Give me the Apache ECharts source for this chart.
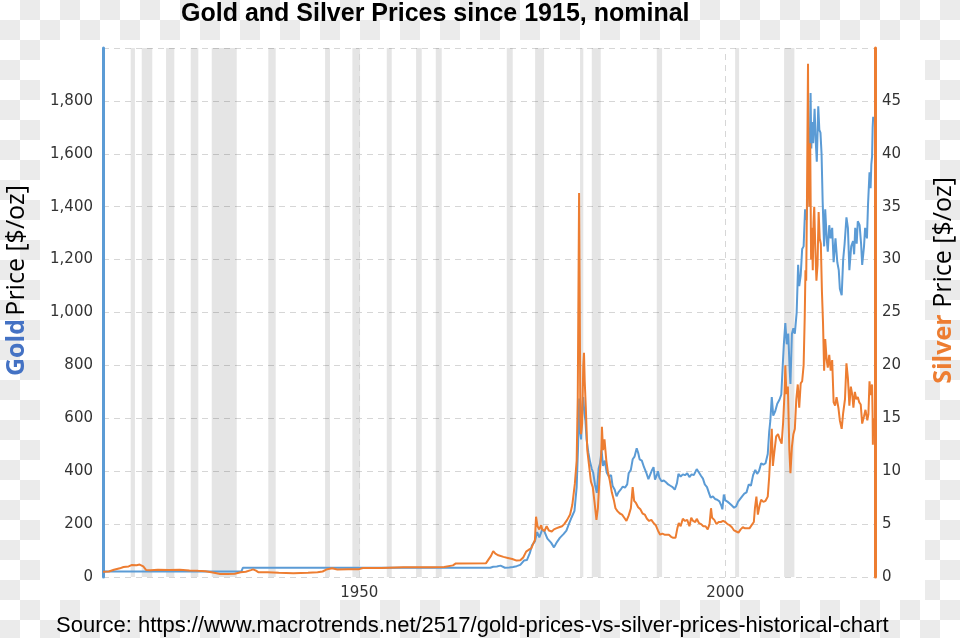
<!DOCTYPE html>
<html><head><meta charset="utf-8">
<script src="https://cdn.jsdelivr.net/npm/echarts@6/dist/echarts.min.js"></script>
<style>
html,body{margin:0;padding:0;}
#wrap{position:relative;width:960px;height:638px;background-color:#fff;background-image:conic-gradient(#ebebeb 0 25%, #fff 0 50%, #ebebeb 0 75%, #fff 0);background-size:40px 40px;}
#panel{position:absolute;left:40px;top:40px;width:885px;height:560px;background:#fff;}
#chart{position:absolute;left:0;top:0;width:960px;height:638px;}
</style></head>
<body><div id="wrap"><div id="panel"></div><div id="chart"></div></div>
<script>
const titleText = 'Gold and Silver Prices since 1915, nominal';
const sourceText = 'Source: https://www.macrotrends.net/2517/gold-prices-vs-silver-prices-historical-chart';

const goldYears = [1915.0,1933.9,1934.1,1967.9,1968.3,1968.8,1969.3,1969.9,1970.5,1971.0,1971.5,1972.0,1972.5,1972.9,1973.3,1973.6,1974.0,1974.3,1974.6,1975.0,1975.3,1975.7,1976.2,1976.6,1977.0,1977.4,1977.9,1978.3,1978.7,1979.0,1979.4,1979.7,1979.9,1980.05,1980.15,1980.3,1980.45,1980.6,1980.75,1980.9,1981.05,1981.3,1981.5,1981.75,1981.95,1982.2,1982.45,1982.7,1982.9,1983.1,1983.3,1983.55,1983.8,1984.1,1984.4,1984.6,1984.9,1985.15,1985.4,1985.7,1986.0,1986.3,1986.6,1986.8,1987.1,1987.35,1987.6,1987.9,1988.1,1988.3,1988.6,1988.9,1989.2,1989.5,1989.75,1990.0,1990.2,1990.4,1990.65,1990.8,1991.0,1991.3,1991.6,1991.9,1992.2,1992.5,1992.8,1993.1,1993.4,1993.6,1993.9,1994.2,1994.5,1994.8,1995.1,1995.4,1995.7,1996.1,1996.4,1996.7,1996.95,1997.2,1997.5,1997.8,1998.0,1998.3,1998.6,1998.9,1999.2,1999.45,1999.6,1999.8,2000.0,2000.3,2000.6,2000.9,2001.2,2001.5,2001.75,2002.0,2002.3,2002.6,2002.9,2003.2,2003.5,2003.8,2004.1,2004.35,2004.6,2004.9,2005.2,2005.5,2005.8,2006.0,2006.15,2006.35,2006.55,2006.8,2007.1,2007.4,2007.65,2007.85,2008.0,2008.2,2008.4,2008.6,2008.8,2008.9,2009.1,2009.3,2009.5,2009.75,2009.95,2010.1,2010.3,2010.5,2010.7,2010.9,2011.1,2011.3,2011.5,2011.65,2011.75,2011.85,2012.0,2012.2,2012.35,2012.5,2012.7,2012.85,2013.0,2013.15,2013.3,2013.5,2013.65,2013.85,2014.0,2014.2,2014.4,2014.6,2014.8,2015.05,2015.3,2015.5,2015.65,2015.9,2016.1,2016.3,2016.55,2016.75,2016.95,2017.2,2017.45,2017.6,2017.75,2017.95,2018.1,2018.35,2018.55,2018.7,2018.95,2019.1,2019.35,2019.5,2019.7,2019.85,2019.95,2020.05,2020.13,2020.2];
const goldPrices = [20.67,20.67,35,35,39,40,43,35,36,38,41,46,62,64,90,120,135,170,150,180,172,145,130,112,132,148,162,175,205,225,250,340,500,675,560,520,640,680,620,590,520,470,440,410,395,350,318,410,430,480,420,440,395,380,385,345,330,305,320,330,342,338,350,392,405,445,455,487,470,445,440,415,395,370,365,405,415,368,385,400,375,362,365,358,350,345,340,330,355,390,380,388,385,392,378,388,385,408,395,382,372,350,340,315,300,305,295,292,286,270,256,312,290,285,278,270,262,268,285,280,305,315,320,350,345,385,405,390,400,430,425,430,465,550,590,680,610,625,655,670,690,800,880,960,880,920,780,730,920,940,920,1000,1180,1100,1140,1240,1250,1390,1350,1480,1560,1830,1620,1720,1640,1770,1650,1570,1780,1690,1680,1600,1420,1250,1390,1280,1230,1330,1280,1320,1190,1280,1190,1160,1090,1065,1200,1260,1360,1320,1160,1250,1270,1220,1320,1260,1345,1330,1260,1180,1250,1320,1280,1410,1530,1470,1560,1590,1700,1740];

const silverYears = [1915.0,1915.8,1916.5,1917.3,1917.8,1918.5,1918.9,1919.6,1920.0,1920.2,1920.5,1920.9,1921.5,1922.5,1924.0,1925.5,1926.8,1928.0,1929.0,1930.0,1931.0,1932.0,1933.0,1933.8,1934.5,1935.2,1935.5,1935.9,1936.2,1937.5,1939.0,1941.0,1943.0,1944.3,1945.0,1945.5,1946.3,1947.0,1948.5,1950.0,1950.5,1953.0,1956.0,1960.0,1961.6,1962.8,1963.2,1967.3,1967.6,1968.0,1968.3,1968.6,1969.0,1969.7,1970.3,1970.9,1971.5,1972.0,1972.4,1972.8,1973.2,1973.5,1973.8,1974.0,1974.15,1974.35,1974.6,1974.85,1975.0,1975.3,1975.6,1975.9,1976.3,1976.6,1976.9,1977.3,1977.7,1978.0,1978.4,1978.8,1979.1,1979.45,1979.7,1979.85,1980.03,1980.12,1980.2,1980.3,1980.45,1980.6,1980.7,1980.8,1980.95,1981.15,1981.4,1981.65,1981.9,1982.15,1982.4,1982.6,1982.85,1983.05,1983.15,1983.3,1983.5,1983.75,1983.95,1984.2,1984.5,1984.8,1985.0,1985.3,1985.6,1985.9,1986.2,1986.5,1986.8,1987.1,1987.35,1987.55,1987.8,1988.1,1988.4,1988.7,1989.0,1989.3,1989.6,1989.9,1990.2,1990.5,1990.8,1991.1,1991.4,1991.7,1992.0,1992.3,1992.6,1992.9,1993.2,1993.45,1993.65,1993.9,1994.2,1994.5,1994.8,1995.1,1995.35,1995.6,1995.9,1996.1,1996.4,1996.7,1997.0,1997.3,1997.6,1997.85,1998.05,1998.2,1998.5,1998.8,1999.1,1999.4,1999.7,2000.0,2000.3,2000.6,2000.9,2001.2,2001.5,2001.8,2002.1,2002.4,2002.7,2003.0,2003.3,2003.6,2003.9,2004.05,2004.25,2004.45,2004.7,2004.9,2005.2,2005.5,2005.8,2006.0,2006.15,2006.35,2006.5,2006.7,2006.95,2007.2,2007.45,2007.7,2007.9,2008.1,2008.2,2008.35,2008.55,2008.75,2008.9,2009.1,2009.3,2009.5,2009.7,2009.9,2010.1,2010.3,2010.5,2010.7,2010.85,2010.95,2011.05,2011.15,2011.3,2011.38,2011.48,2011.6,2011.72,2011.82,2011.95,2012.05,2012.15,2012.3,2012.45,2012.6,2012.75,2012.9,2013.05,2013.2,2013.35,2013.5,2013.65,2013.85,2014.0,2014.2,2014.4,2014.6,2014.8,2015.0,2015.2,2015.45,2015.65,2015.9,2016.1,2016.35,2016.55,2016.75,2016.95,2017.15,2017.35,2017.5,2017.7,2017.9,2018.1,2018.3,2018.5,2018.7,2018.95,2019.15,2019.4,2019.55,2019.7,2019.85,2019.95,2020.05,2020.12,2020.16,2020.2];
const silverPrices = [0.50,0.52,0.68,0.82,0.95,1.00,1.13,1.12,1.18,1.05,1.00,0.65,0.63,0.68,0.67,0.69,0.62,0.58,0.55,0.42,0.29,0.28,0.30,0.45,0.50,0.65,0.72,0.60,0.46,0.45,0.40,0.35,0.40,0.45,0.52,0.70,0.82,0.70,0.74,0.74,0.85,0.85,0.91,0.91,0.95,1.10,1.28,1.29,1.60,2.00,2.45,2.20,2.05,1.90,1.80,1.70,1.55,1.58,1.85,2.40,2.60,2.70,3.20,3.50,5.70,4.80,4.50,4.90,4.50,4.35,4.80,4.40,4.30,4.50,4.60,4.70,4.80,5.00,5.40,5.90,6.80,8.80,11.0,17.0,36.3,26.0,15.0,13.5,14.5,20.0,21.2,18.5,16.0,12.0,10.5,9.0,8.5,7.0,5.4,6.5,9.8,11.5,14.2,12.0,13.0,11.0,10.0,9.2,8.0,7.2,6.5,6.2,6.0,5.9,5.6,5.3,5.8,6.5,8.5,7.2,7.0,6.6,6.4,6.0,5.9,5.5,5.3,5.4,5.1,4.9,4.4,4.0,4.1,4.0,4.0,4.0,3.8,3.7,3.7,4.6,5.1,4.8,5.5,5.3,5.4,4.8,5.6,5.3,5.2,5.5,5.1,5.0,4.8,4.8,4.5,5.0,6.5,5.6,5.4,5.0,5.2,5.2,5.3,5.2,5.0,4.9,4.7,4.4,4.3,4.2,4.5,4.7,4.6,4.6,4.6,4.9,5.2,6.5,7.6,5.9,6.8,7.3,7.1,7.2,7.6,9.5,11.5,14.0,10.5,11.8,13.3,13.5,13.0,12.6,14.6,17.5,20.0,17.3,18.0,12.0,9.8,12.3,13.5,14.0,16.8,18.2,16.0,18.3,18.5,20.0,24.5,29.0,28.0,35.0,48.5,37.0,35.0,41.0,30.0,33.0,29.0,33.5,35.0,31.0,28.0,29.5,34.5,32.0,31.5,27.0,24.0,19.5,22.5,20.5,19.8,21.0,19.5,20.5,16.5,16.2,17.0,16.0,14.8,14.0,15.5,16.8,20.2,18.8,16.2,18.0,17.2,16.0,17.5,16.8,17.0,16.5,16.3,14.5,15.2,15.8,14.8,15.4,18.5,17.2,17.8,18.2,15.5,12.5,15.0];

const recessionStart = [1918.78,1920.29,1923.61,1926.98,1929.85,1937.58,1945.33,1949.06,1953.76,1957.76,1960.45,1970.15,1974.02,1980.16,1981.76,1990.64,2001.34,2008.03];
const recessionEnd   = [1919.37,1921.73,1924.74,1928.02,1933.27,1938.59,1946.01,1950.11,1954.44,1958.54,1961.27,1970.97,1975.25,1980.61,1982.99,1991.37,2001.89,2009.44];

const xTickValues = [1950, 2000];
const goldAxisMax = 2000, goldAxisStep = 200;
const silverAxisMax = 50, silverAxisStep = 5;

const fmtThousands = v => String(v).replace(/\B(?=(\d{3})+(?!\d))/g, ',');

const chart = echarts.init(document.getElementById('chart'), null, {renderer: 'canvas'});
const gridLine = {color: '#d6d6d6', type: [6, 5], width: 1};
const tickFont = {color: '#333', fontFamily: 'DejaVu Sans', fontSize: 15};

chart.setOption({
  backgroundColor: 'transparent',
  animation: false,
  title: [
    {text: titleText, left: 181, top: 2, padding: 0,
     textStyle: {fontFamily: 'Liberation Sans', fontWeight: 'bold', fontSize: 25, color: '#000'}},
    {text: sourceText, left: 56, top: 615, padding: 0,
     textStyle: {fontFamily: 'Liberation Sans', fontWeight: 'normal', fontSize: 22, color: '#000'}}
  ],
  grid: {left: 103, right: 85, top: 48, bottom: 61, containLabel: false, outerBoundsMode: 'none'},
  xAxis: {
    type: 'value', min: 1915, max: 2020.45,
    axisLine: {show: false}, axisTick: {show: false}, splitLine: {show: false},
    axisLabel: Object.assign({margin: 9, customValues: xTickValues, formatter: v => String(v)}, tickFont)
  },
  yAxis: [
    {
      type: 'value', min: 0, max: goldAxisMax, interval: goldAxisStep, position: 'left',
      axisLine: {show: true, lineStyle: {color: '#5B9BD5', width: 3}},
      axisTick: {show: false},
      axisLabel: Object.assign({margin: 10, formatter: v => v >= goldAxisMax ? '' : fmtThousands(v)}, tickFont),
      splitLine: {show: true, lineStyle: gridLine},
      name: '{g|Gold} {p|Price [$/oz]}', nameLocation: 'middle', nameRotate: 90, nameGap: 74,
      nameTextStyle: {padding: [0, 0, 0, 64], rich: {
        g: {fontFamily: 'Open Sans', fontWeight: 'bold', fontSize: 25, color: '#4472C4'},
        p: {fontFamily: 'Open Sans', fontSize: 25, color: '#000'}
      }}
    },
    {
      type: 'value', min: 0, max: silverAxisMax, interval: silverAxisStep, position: 'right',
      axisLine: {show: true, lineStyle: {color: '#ED7D31', width: 3}},
      axisTick: {show: false},
      axisLabel: Object.assign({margin: 7, formatter: v => v >= silverAxisMax ? '' : String(v)}, tickFont),
      splitLine: {show: false},
      name: '{s|Silver}  {p|Price [$/oz]}', nameLocation: 'middle', nameRotate: 90, nameGap: 56,
      nameTextStyle: {padding: [0, 0, 0, 64], rich: {
        s: {fontFamily: 'Open Sans', fontWeight: 'bold', fontSize: 25, color: '#ED7D31'},
        p: {fontFamily: 'Open Sans', fontSize: 25, color: '#000'}
      }}
    }
  ],
  series: [
    {
      name: 'Recessions', type: 'line', data: [], silent: true, z: 1,
      markArea: {silent: true, z: 1, itemStyle: {color: 'rgba(0,0,0,0.1)'},
        data: recessionStart.map((s, i) => [{xAxis: s}, {xAxis: recessionEnd[i]}])},
      markLine: {silent: true, z: 1, symbol: 'none', label: {show: false}, lineStyle: gridLine,
        data: xTickValues.map(v => ({xAxis: v}))}
    },
    {
      name: 'Gold', type: 'line', yAxisIndex: 0, z: 3, symbol: 'none', showSymbol: false,
      lineStyle: {color: '#5B9BD5', width: 2}, itemStyle: {color: '#5B9BD5'},
      data: goldYears.map((y, i) => [y, goldPrices[i]])
    },
    {
      name: 'Silver', type: 'line', yAxisIndex: 1, z: 4, symbol: 'none', showSymbol: false,
      lineStyle: {color: '#ED7D31', width: 2}, itemStyle: {color: '#ED7D31'},
      data: silverYears.map((y, i) => [y, silverPrices[i]])
    }
  ]
});
</script></body></html>
